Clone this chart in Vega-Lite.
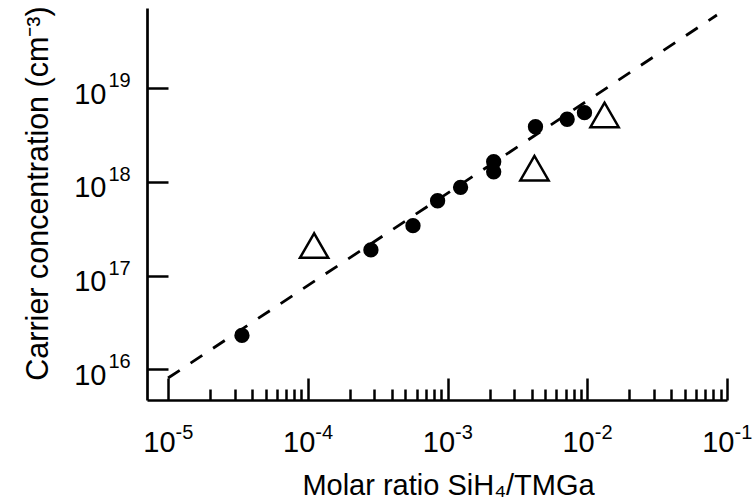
{
  "$schema": "https://vega.github.io/schema/vega-lite/v6.json",
  "width": 580,
  "height": 392,
  "autosize": {"type": "none"},
  "padding": {"left": 147, "top": 8, "right": 26, "bottom": 104},
  "background": "white",
  "config": {
    "view": {"stroke": null},
    "axis": {
      "grid": false,
      "labelFont": "Liberation Sans",
      "titleFont": "Liberation Sans",
      "labelColor": "black",
      "titleColor": "black",
      "domainColor": "black",
      "tickColor": "black",
      "labelFlush": false,
      "labelOverlap": false,
      "labelBound": false,
      "titleFontWeight": "normal"
    }
  },
  "datasets": {
    "filled": [
      {"ratio": 3.38e-5, "conc": 2.30e16},
      {"ratio": 2.83e-4, "conc": 1.88e17},
      {"ratio": 5.66e-4, "conc": 3.41e17},
      {"ratio": 8.49e-4, "conc": 6.3e17},
      {"ratio": 1.24e-3, "conc": 8.75e17},
      {"ratio": 2.14e-3, "conc": 1.64e18},
      {"ratio": 2.14e-3, "conc": 1.28e18},
      {"ratio": 4.26e-3, "conc": 3.88e18},
      {"ratio": 7.18e-3, "conc": 4.66e18},
      {"ratio": 9.55e-3, "conc": 5.48e18}
    ],
    "open": [
      {"ratio": 1.11e-4, "conc": 2.09e17},
      {"ratio": 4.19e-3, "conc": 1.40e18},
      {"ratio": 1.33e-2, "conc": 5.18e18}
    ],
    "fit": [
      {"ratio": 1e-5, "conc": 8.07e15},
      {"ratio": 8.47e-2, "conc": 6.04e19}
    ]
  },
  "layer": [
    {
      "data": {"name": "fit"},
      "mark": {"type": "line", "color": "black", "strokeWidth": 2.8, "strokeDash": [14, 13]},
      "encoding": {
        "x": {
          "field": "ratio", "type": "quantitative",
          "scale": {"type": "log", "domain": [7.07e-6, 0.1], "nice": false},
          "axis": {
            "orient": "bottom",
            "values": [1e-5, 2e-5, 3e-5, 4e-5, 5e-5, 6e-5, 7e-5, 8e-5, 9e-5,
                       1e-4, 2e-4, 3e-4, 4e-4, 5e-4, 6e-4, 7e-4, 8e-4, 9e-4,
                       1e-3, 2e-3, 3e-3, 4e-3, 5e-3, 6e-3, 7e-3, 8e-3, 9e-3,
                       1e-2, 2e-2, 3e-2, 4e-2, 5e-2, 6e-2, 7e-2, 8e-2, 9e-2, 1e-1],
            "labels": false,
            "domain": true,
            "domainWidth": 2.7,
            "ticks": true,
            "tickSize": -22,
            "tickWidth": 2.5,
            "encoding": {
              "ticks": {
                "y2": {
                  "condition": {"test": "abs(log(datum.value)/LN10 - round(log(datum.value)/LN10)) < 0.001", "value": -22},
                  "value": -11
                }
              }
            },
            "title": "Molar ratio SiH₄/TMGa",
            "titleFontSize": 29,
            "titleX": 301,
            "titleY": 94,
            "titleAngle": 0,
            "titleAlign": "center",
            "titleBaseline": "alphabetic"
          }
        },
        "y": {
          "field": "conc", "type": "quantitative",
          "scale": {"type": "log", "domain": [4.703e15, 7.18e19], "nice": false},
          "axis": {
            "orient": "left",
            "values": [1e16, 1e17, 1e18, 1e19],
            "labels": false,
            "domain": true,
            "domainWidth": 2.7,
            "ticks": true,
            "tickSize": -21,
            "tickWidth": 2.5,
            "title": "Carrier concentration (cm⁻³)",
            "titleFontSize": 30.5,
            "titleAngle": 270,
            "titleX": -100,
            "titleY": 185,
            "titleAlign": "center",
            "titleBaseline": "alphabetic"
          }
        }
      }
    },
    {
      "data": {"name": "filled"},
      "mark": {"type": "point", "shape": "circle", "filled": true, "color": "black", "opacity": 1, "size": 235},
      "encoding": {
        "x": {
          "field": "ratio", "type": "quantitative",
          "axis": {
            "orient": "bottom",
            "values": [1e-5, 1e-4, 1e-3, 1e-2, 1e-1],
            "domain": false,
            "ticks": false,
            "labelExpr": "'10'",
            "labelFontSize": 29,
            "labelAlign": "right",
            "labelBaseline": "alphabetic",
            "labelPadding": 51,
            "labelOffset": 7,
            "title": null
          }
        },
        "y": {
          "field": "conc", "type": "quantitative",
          "axis": {
            "orient": "left",
            "values": [1e16, 1e17, 1e18, 1e19],
            "domain": false,
            "ticks": false,
            "labelExpr": "'10'",
            "labelFontSize": 29,
            "labelAlign": "right",
            "labelBaseline": "alphabetic",
            "labelPadding": 41,
            "labelOffset": 15,
            "title": null
          }
        }
      }
    },
    {
      "data": {"name": "open"},
      "mark": {"type": "point", "shape": "triangle-up", "filled": false, "color": "black", "opacity": 1, "strokeWidth": 2.5, "size": 800},
      "encoding": {
        "x": {
          "field": "ratio", "type": "quantitative",
          "axis": {
            "orient": "bottom",
            "values": [1e-5, 1e-4, 1e-3, 1e-2, 1e-1],
            "domain": false,
            "ticks": false,
            "labelExpr": "'' + round(log(datum.value)/LN10)",
            "labelFontSize": 20,
            "labelAlign": "left",
            "labelBaseline": "alphabetic",
            "labelPadding": 38,
            "labelOffset": 7,
            "title": null
          }
        },
        "y": {
          "field": "conc", "type": "quantitative",
          "axis": {
            "orient": "left",
            "values": [1e16, 1e17, 1e18, 1e19],
            "domain": false,
            "ticks": false,
            "labelExpr": "'' + round(log(datum.value)/LN10)",
            "labelFontSize": 20,
            "labelAlign": "left",
            "labelBaseline": "alphabetic",
            "labelPadding": 39,
            "labelOffset": -1.5,
            "title": null
          }
        }
      }
    }
  ],
  "resolve": {"axis": {"x": "independent", "y": "independent"}}
}
